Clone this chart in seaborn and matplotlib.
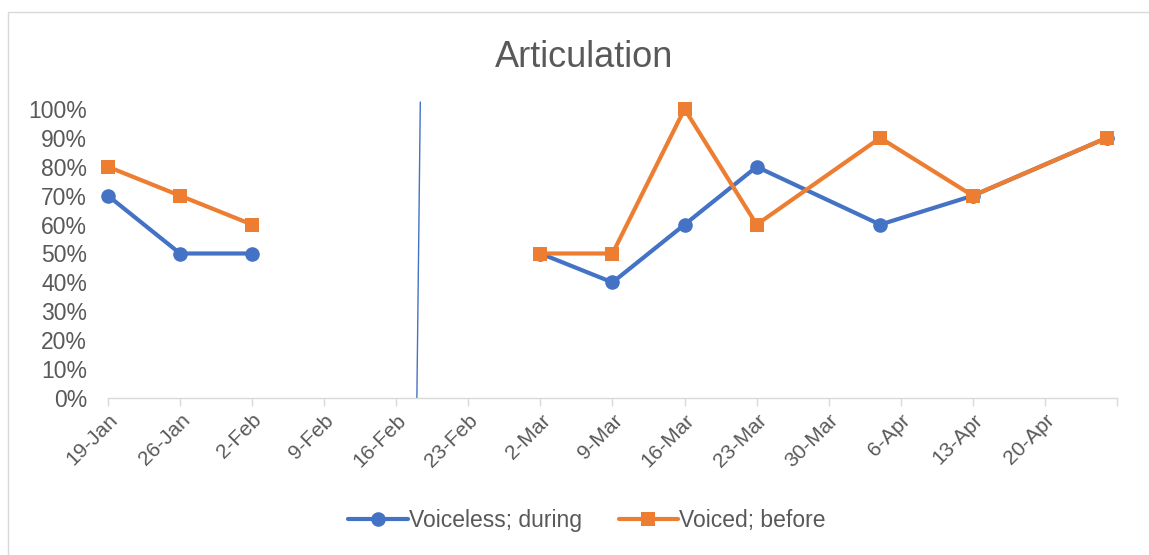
import pandas as pd
import numpy as np
import matplotlib.pyplot as plt
from matplotlib.lines import Line2D
from matplotlib.patches import Rectangle
import seaborn as sns

sns.set_theme(style="white")
plt.rcParams['font.family'] = ['Liberation Sans', 'DejaVu Sans']

# Data
dates = ['2021-01-19', '2021-01-26', '2021-02-02',
         '2021-03-02', '2021-03-09', '2021-03-16', '2021-03-23',
         '2021-04-04', '2021-04-13', '2021-04-26']
part = [1, 1, 1, 2, 2, 2, 2, 2, 2, 2]
voiceless_during = [0.70, 0.50, 0.50, 0.50, 0.40, 0.60, 0.80, 0.60, 0.70, 0.90]
voiced_before = [0.80, 0.70, 0.60, 0.50, 0.50, 1.00, 0.60, 0.90, 0.70, 0.90]
series_names = ['Voiceless; during', 'Voiced; before']
tick_dates = pd.date_range('2021-01-19', '2021-04-20', freq='7D')
x_end = '2021-04-27'

# hand drawn divider line (bottom/top dates and y values)
divider_x = ['2021-02-18 00:00', '2021-02-18 08:00']
divider_y = [0.0, 1.024]

blue = '#4472C4'
orange = '#ED7D31'
grey_text = '#595959'

data = pd.DataFrame({
    'date': pd.to_datetime(dates * 2),
    'value': voiceless_during + voiced_before,
    'series': [series_names[0]] * len(dates) + [series_names[1]] * len(dates),
    'part': part * 2,
})

fig = plt.figure(figsize=(11.49, 5.55), dpi=100)
ax = fig.add_axes([108 / 1149, 1 - 398 / 555, (1117 - 108) / 1149, (398 - 109) / 555])

# light chart border
fig.patches.append(Rectangle((8 / 1149, -0.05), 1.2, 1 - 12 / 555 + 0.05,
                             transform=fig.transFigure, fill=False,
                             edgecolor='#D9D9D9', lw=1))

styles = {series_names[0]: (blue, 'o', 10.5), series_names[1]: (orange, 's', 10)}
for name, (col, mk, ms) in styles.items():
    for p in sorted(set(part)):
        sub = data[(data['series'] == name) & (data['part'] == p)]
        sns.lineplot(data=sub, x='date', y='value', ax=ax, color=col, lw=3,
                     marker=mk, markersize=ms, markeredgewidth=0,
                     estimator=None, legend=False, clip_on=False, zorder=3)

ax.plot(pd.to_datetime(divider_x), divider_y, color=blue, lw=1, clip_on=False)

ax.set_xlim(pd.Timestamp(dates[0]), pd.Timestamp(x_end))
ax.set_ylim(0, 1)
ax.set_yticks(np.arange(0, 1.01, 0.1))
ax.set_yticklabels([f'{int(round(v * 100))}%' for v in np.arange(0, 1.01, 0.1)])
ax.set_xticks(list(tick_dates) + [pd.Timestamp(x_end)])
ax.set_xticklabels([d.strftime('%-d-%b') for d in tick_dates] + [''])
for lab in ax.get_xticklabels():
    lab.set_rotation(45)
    lab.set_ha('right')
    lab.set_va('top')
    lab.set_rotation_mode('anchor')

ax.tick_params(axis='y', length=0, labelsize=16.5, labelcolor=grey_text, pad=15)
ax.tick_params(axis='x', length=6, width=1, color='#D9D9D9', direction='out',
               labelsize=15, labelcolor=grey_text, pad=3, bottom=True)
for s in ['top', 'right', 'left']:
    ax.spines[s].set_visible(False)
ax.spines['bottom'].set_color('#D9D9D9')
ax.spines['bottom'].set_linewidth(1)
ax.set_xlabel('')
ax.set_ylabel('')
ax.set_facecolor('none')

fig.text(584 / 1149, 1 - 57 / 555, 'Articulation', ha='center', va='center',
         fontsize=26, color=grey_text)

handles = [Line2D([], [], color=blue, lw=3, marker='o', markersize=10.5, markeredgewidth=0),
           Line2D([], [], color=orange, lw=3, marker='s', markersize=10, markeredgewidth=0)]
leg = fig.legend(handles, series_names, loc='center', bbox_to_anchor=(587 / 1149, 1 - 521 / 555),
                 ncol=2, frameon=False, fontsize=16.5, handlelength=2.6, handletextpad=0.05,
                 columnspacing=1.6)
for t in leg.get_texts():
    t.set_color(grey_text)

fig.savefig('out.png', dpi=100)
